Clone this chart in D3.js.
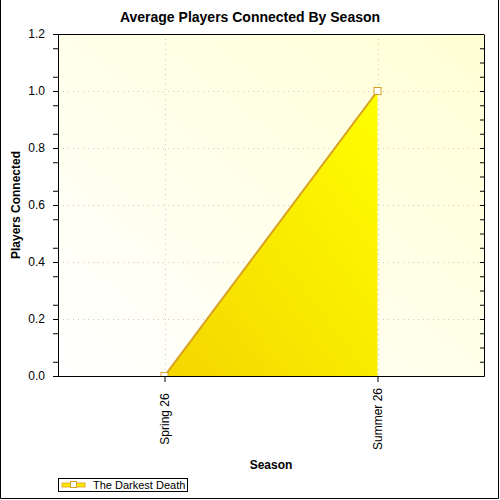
<!DOCTYPE html>
<html lang="en">
<head>
  <meta charset="UTF-8">
  <title>Average Players Connected By Season</title>
  <script src="https://d3js.org/d3.v7.min.js"></script>
  <style>
    body { margin: 0; background: #fff; font-family: "Liberation Sans", Arial, sans-serif; }
    svg { display: block; }
  </style>
</head>
<body>
  <div id="chart"></div>
  <script>
    const seasons = ["Spring 26", "Summer 26"];
    const players = [0, 1.0];
    const seriesName = "The Darkest Death";
    const yTicks = [0, 0.2, 0.4, 0.6, 0.8, 1.0, 1.2];

    const width = 500, height = 500;
    const margin = { top: 34, right: 16, bottom: 124, left: 58 };
    const iw = width - margin.left - margin.right;
    const ih = height - margin.top - margin.bottom;

    const svg = d3.select("#chart").append("svg")
      .attr("width", width).attr("height", height);

    const defs = svg.append("defs");
    const bg = defs.append("linearGradient").attr("id", "bg")
      .attr("x1", "0%").attr("y1", "100%").attr("x2", "100%").attr("y2", "0%");
    bg.append("stop").attr("offset", "0%").attr("stop-color", "#ffffff");
    bg.append("stop").attr("offset", "100%").attr("stop-color", "#ffffd4");
    const fillGrad = defs.append("linearGradient").attr("id", "areaFill")
      .attr("x1", "0%").attr("y1", "100%").attr("x2", "100%").attr("y2", "0%");
    fillGrad.append("stop").attr("offset", "0%").attr("stop-color", "#f4d600");
    fillGrad.append("stop").attr("offset", "100%").attr("stop-color", "#ffff00");
    defs.append("clipPath").attr("id", "plotClip")
      .append("rect").attr("width", iw).attr("height", ih);

    // outer frame (left, right, bottom)
    svg.append("path")
      .attr("d", "M0.5,0 V498.5 H498.5 V0")
      .attr("fill", "none").attr("stroke", "#000");

    svg.append("text")
      .attr("x", 250).attr("y", 22)
      .attr("text-anchor", "middle")
      .style("font-size", "14px").style("font-weight", "bold")
      .text("Average Players Connected By Season");

    const g = svg.append("g").attr("transform", `translate(${margin.left},${margin.top})`);

    const x = d3.scalePoint().domain(seasons).range([0, iw]).padding(0.5);
    const y = d3.scaleLinear().domain([0, 1.2]).range([ih, 0]);

    g.append("rect").attr("width", iw).attr("height", ih).attr("fill", "url(#bg)");

    // grid
    g.selectAll(".hgrid").data(yTicks.slice(1, -1)).enter().append("line")
      .attr("x1", 0).attr("x2", iw)
      .attr("y1", d => Math.round(y(d)) + 0.5).attr("y2", d => Math.round(y(d)) + 0.5)
      .attr("stroke", "#c8c8c8").attr("stroke-dasharray", "1,4");
    g.selectAll(".vgrid").data(seasons).enter().append("line")
      .attr("x1", d => Math.round(x(d)) + 0.5).attr("x2", d => Math.round(x(d)) + 0.5)
      .attr("y1", 0).attr("y2", ih)
      .attr("stroke", "#c8c8c8").attr("stroke-dasharray", "1,4");

    const pts = seasons.map((s, i) => [x(s), y(players[i])]);
    const series = g.append("g").attr("clip-path", "url(#plotClip)");

    series.append("path")
      .datum(pts)
      .attr("d", d3.area().x(d => d[0]).y0(ih).y1(d => d[1]))
      .attr("fill", "url(#areaFill)");
    series.append("path")
      .datum(pts)
      .attr("d", d3.line())
      .attr("fill", "none").attr("stroke", "#d8a020").attr("stroke-width", 2);

    series.selectAll(".mark").data(pts).enter().append("rect")
      .attr("x", d => d[0] - 3.5).attr("y", d => d[1] - 3.5)
      .attr("width", 7).attr("height", 7)
      .attr("fill", "#fff").attr("stroke", "#d8a020");

    // axes
    g.append("g").call(d3.axisLeft(y).tickValues(yTicks).tickFormat(d3.format(".1f")).tickSize(5).tickPadding(8));
    g.append("g").call(d3.axisLeft(y).tickValues(d3.range(0.05, 1.2, 0.1)).tickFormat("").tickSize(5));
    g.append("g").attr("transform", `translate(${iw},0)`)
      .call(d3.axisLeft(y).tickValues(d3.range(0.05, 1.2, 0.05)).tickFormat("").tickSize(4).tickSizeOuter(0));
    g.append("line").attr("x1", 0).attr("x2", iw).attr("y1", 0.5).attr("y2", 0.5).attr("stroke", "#000");

    const xAxis = g.append("g").attr("transform", `translate(0,${ih})`)
      .call(d3.axisBottom(x).tickSize(6).tickSizeOuter(0));
    xAxis.selectAll("text")
      .attr("transform", "rotate(-90)")
      .attr("text-anchor", "middle")
      .attr("x", -43).attr("y", 0).attr("dy", "0.35em");

    g.selectAll(".domain").attr("stroke", "#000");
    g.selectAll(".tick line").attr("stroke", "#000");
    g.selectAll(".tick text").style("font-size", "12px").style("font-family", "Liberation Sans, Arial, sans-serif").attr("fill", "#000");

    svg.append("text")
      .attr("x", margin.left + iw / 2).attr("y", 469)
      .attr("text-anchor", "middle")
      .style("font-size", "12px").style("font-weight", "bold")
      .text("Season");
    svg.append("text")
      .attr("transform", `translate(20,${margin.top + ih / 2}) rotate(-90)`)
      .attr("text-anchor", "middle")
      .style("font-size", "12px").style("font-weight", "bold")
      .text("Players Connected");

    // legend
    const lg = svg.append("g").attr("transform", "translate(58,478)");
    lg.append("rect").attr("x", 0.5).attr("y", 0.5).attr("width", 129).attr("height", 13)
      .attr("fill", "#fff").attr("stroke", "#000");
    lg.append("rect").attr("x", 4).attr("y", 5).attr("width", 23).attr("height", 4)
      .attr("fill", "#ffe800").attr("stroke", "#d8a020").attr("stroke-width", 0.8);
    lg.append("rect").attr("x", 12.5).attr("y", 3.5).attr("width", 6).attr("height", 6)
      .attr("fill", "#fff").attr("stroke", "#d8a020");
    lg.append("text").attr("x", 35).attr("y", 11)
      .style("font-size", "11px").text(seriesName);
  </script>
</body>
</html>
